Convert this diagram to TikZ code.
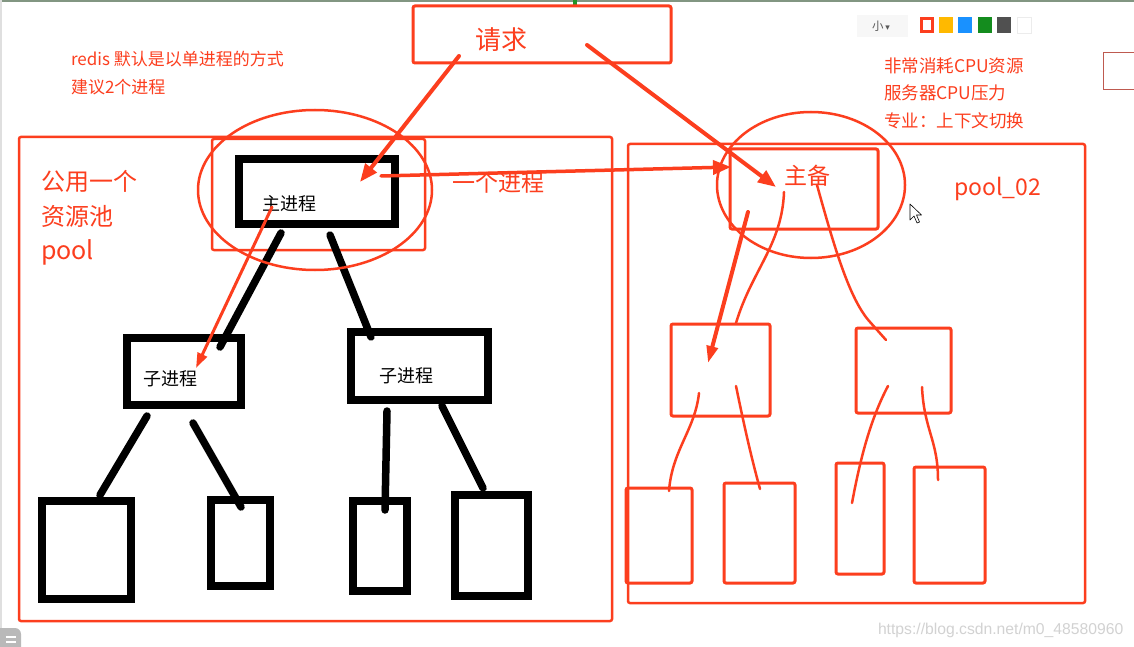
\documentclass[tikz,border=0pt]{standalone}
\usepackage{fontspec}
\setmainfont{Noto Sans CJK SC}
\newfontfamily\wmfont{Liberation Sans}
\newfontfamily\symfont{DejaVu Sans}
\usetikzlibrary{shapes.geometric,arrows.meta}
\definecolor{pen}{RGB}{252,62,30}
\definecolor{chrome}{RGB}{130,150,130}
\definecolor{tbgreen}{RGB}{30,150,40}
\definecolor{swOrange}{RGB}{255,185,0}
\definecolor{swBlue}{RGB}{25,145,255}
\definecolor{swGreen}{RGB}{20,140,30}
\definecolor{swGray}{RGB}{80,80,80}
\definecolor{edgebox}{RGB}{190,90,80}
\begin{document}
\begin{tikzpicture}[x=1pt,y=-1pt,
  bbox/.style={draw=black,line width=8pt,inner sep=0pt,outer sep=0pt,fill=white},
  rbox/.style={draw=pen,line width=3pt,inner sep=0pt,outer sep=0pt,rounded corners=2pt},
  rell/.style={draw=pen,line width=2.5pt,ellipse,inner sep=0pt,outer sep=0pt},
  bline/.style={draw=black,line width=7.5pt,line cap=round},
  rline/.style={draw=pen,line width=2.5pt,line cap=round,line join=round},
  rarrow/.style={draw=pen,line width=4pt,line cap=round,-{Triangle[length=18pt,width=14pt]}},
  lbl/.style={inner sep=0pt,outer sep=0pt,anchor=base west},
  rtext/.style={lbl,text=pen},
  swatch/.style={inner sep=0pt,outer sep=0pt,minimum width=14pt,minimum height=16pt}
]
\fill[white] (0,0) rectangle (1134,647);
\useasboundingbox (0,0) rectangle (1134,647);
% screen chrome
\draw[chrome,line width=2.5pt] (0,1) -- (1134,1);
\fill[tbgreen] (573,0) rectangle (577,6);
\draw[gray!25,line width=2pt] (1,0) -- (1,647);
% toolbar
\node[fill=gray!6,minimum width=51pt,minimum height=22pt,inner sep=0pt] (tb) at (882.5,26) {};
\node[lbl,font=\fontsize{11.5}{13}\selectfont,text=gray!70!black] (tbt) at (872,31) {小\,{\symfont\fontsize{9}{10}\selectfont ▾}};
\node[swatch,draw=pen,line width=3pt,fill=white,minimum width=11pt,minimum height=13pt] (sw1) at (927,25) {};
\node[swatch,fill=swOrange] (sw2) at (945.5,25) {};
\node[swatch,fill=swBlue] (sw3) at (965,25) {};
\node[swatch,fill=swGreen] (sw4) at (985,25) {};
\node[swatch,fill=swGray] (sw5) at (1004,25) {};
\node[swatch,fill=white,draw=gray!15,line width=0.6pt] (sw6) at (1024,25) {};
\draw[edgebox,line width=1pt] (1134,53) -- (1103,53) -- (1103,90) -- (1134,90);
% texts top
\node[rtext,font=\fontsize{17}{20}\selectfont] (n1) at (71,65.5) {redis 默认是以单进程的方式};
\node[rtext,font=\fontsize{17}{20}\selectfont] (n2) at (71,93.5) {建议2个进程};
\node[rtext,font=\fontsize{17.5}{20}\selectfont] (m1) at (884,72.5) {非常消耗CPU资源};
\node[rtext,font=\fontsize{17.5}{20}\selectfont] (m2) at (884,100) {服务器CPU压力};
\node[rtext,font=\fontsize{17.5}{20}\selectfont] (m3) at (884,127.5) {专业：上下文切换};
% request box
\node[rbox,minimum width=258pt,minimum height=57pt] (req) at (542,34.5) {};
\node[rtext,font=\fontsize{26}{30}\selectfont] (reqt) at (475,50) {请求};
% left pool
\node[rbox,line width=2.5pt,minimum width=593pt,minimum height=484pt] (pool1) at (315.5,379) {};
\node[rbox,line width=2.5pt,minimum width=213pt,minimum height=111pt] (inner) at (318.5,194.5) {};
\node[rtext,font=\fontsize{24}{28}\selectfont] (p1a) at (41,190) {公用一个};
\node[rtext,font=\fontsize{24}{28}\selectfont] (p1b) at (41,225) {资源池};
\node[rtext,font=\fontsize{25}{28}\selectfont] (p1c) at (41,259) {pool};
% black boxes
\node[bbox,minimum width=156pt,minimum height=65pt] (main) at (317,191.5) {};
\node[bbox,minimum width=114pt,minimum height=67pt] (sub1) at (184,371.5) {};
\node[bbox,minimum width=137pt,minimum height=68pt] (sub2) at (419.5,366) {};
\node[bbox,minimum width=89pt,minimum height=98pt] (l1) at (86.5,550) {};
\node[bbox,minimum width=59pt,minimum height=86pt] (l2) at (240.5,543) {};
\node[bbox,minimum width=54pt,minimum height=90pt] (l3) at (380,546) {};
\node[bbox,minimum width=73pt,minimum height=101pt] (l4) at (491.5,545.5) {};
\node[lbl,font=\fontsize{18}{20}\selectfont] (maint) at (262,211) {主进程};
\node[lbl,font=\fontsize{18}{20}\selectfont] (sub1t) at (143,385) {子进程};
\node[lbl,font=\fontsize{18}{20}\selectfont] (sub2t) at (379,382) {子进程};
% black connectors
\coordinate (a1) at (281,233); \coordinate (a2) at (220,347);
\coordinate (b1) at (330,235); \coordinate (b2) at (371,337);
\coordinate (c1) at (147,416); \coordinate (c2) at (100,495);
\coordinate (d1) at (193,423); \coordinate (d2) at (241,507);
\coordinate (e1) at (387,411); \coordinate (e2) at (385,510);
\coordinate (f1) at (442,406); \coordinate (f2) at (483,488);
\draw[bline] (a1) -- (a2);
\draw[bline] (b1) -- (b2);
\draw[bline] (c1) -- (c2);
\draw[bline] (d1) -- (d2);
\draw[bline] (e1) -- (e2);
\draw[bline] (f1) -- (f2);
% right pool
\node[rbox,line width=2.5pt,minimum width=457pt,minimum height=459pt] (pool2) at (856.5,373.5) {};
\node[rbox,minimum width=148pt,minimum height=80pt] (bak) at (804,189) {};
\node[rtext,font=\fontsize{23}{28}\selectfont] (bakt) at (784,185) {主备};
\node[rtext,font=\fontsize{23}{28}\selectfont] (pool2t) at (954,195) {pool\_02};
\node[rbox,minimum width=99pt,minimum height=92pt] (ra) at (720.5,370) {};
\node[rbox,minimum width=95pt,minimum height=85pt] (rb) at (903.5,370.5) {};
\node[rbox,minimum width=66pt,minimum height=95pt] (rl1) at (659,535.5) {};
\node[rbox,minimum width=71pt,minimum height=100pt] (rl2) at (759.5,533) {};
\node[rbox,minimum width=48pt,minimum height=111pt] (rl3) at (860,518.5) {};
\node[rbox,minimum width=71pt,minimum height=116pt] (rl4) at (949.5,525) {};
% right hand-drawn connectors
\coordinate (g1) at (784,192); \coordinate (g2) at (736,323);
\coordinate (h1) at (817,185); \coordinate (h2) at (886,340);
\coordinate (i1) at (699,393); \coordinate (i2) at (669,491);
\coordinate (j1) at (736,386); \coordinate (j2) at (760,489);
\coordinate (k1) at (888,386); \coordinate (k2) at (852,503);
\coordinate (m1p) at (922,387); \coordinate (m2p) at (938,480);
\draw[rline] (g1) .. controls (782,245) and (752,270) .. (g2);
\draw[rline] (h1) .. controls (835,250) and (850,300) .. (870,322) -- (h2);
\draw[rline] (i1) .. controls (695,430) and (672,450) .. (i2);
\draw[rline] (j1) .. controls (745,430) and (752,460) .. (j2);
\draw[rline] (k1) .. controls (870,420) and (860,460) .. (k2);
\draw[rline] (m1p) .. controls (924,430) and (938,440) .. (m2p);
\coordinate (q1) at (748,212); \coordinate (q2) at (708,363);
\draw[rarrow,line width=4pt,-{Triangle[length=17pt,width=11pt]}] (q1) -- (q2);
% ellipses
\node[rell,minimum width=234pt,minimum height=160pt] (ell1) at (315,190) {};
\node[rell,minimum width=188pt,minimum height=146pt] (ell2) at (811,185) {};
% red arrows
\coordinate (r1) at (459,56); \coordinate (r2) at (360,182);
\coordinate (s1) at (587,45); \coordinate (s2) at (776,187);
\coordinate (t1) at (381,176); \coordinate (t2) at (731,167);
\coordinate (u1) at (272,207); \coordinate (u2) at (196,368);
\draw[rarrow] (r1) -- (r2);
\draw[rarrow] (s1) -- (s2);
\draw[rarrow,line width=3.5pt] (t1) -- (t2);
\draw[rarrow,line width=3pt,-{Triangle[length=15pt,width=10pt]}] (u1) -- (u2);
\node[rtext,font=\fontsize{23}{28}\selectfont] (onep) at (452,192) {一个进程};
% cursor
\draw[fill=white,draw=black,line width=0.6pt,line join=round] (910,204) -- (910,220) -- (914,216) -- (917,223) -- (919.5,222) -- (916.5,215) -- (921.5,215) -- cycle;
% watermark and corner icon
\node[lbl,font=\wmfont\fontsize{15.7}{18}\selectfont,text=gray!35] (wm) at (878,634) {https://blog.csdn.net/m0\_48580960};
\fill[gray!55,rounded corners=6pt] (-8,628) rectangle (21,660);
\draw[white,line width=1.5pt] (6,637) -- (16,637) (6,642) -- (16,642);
\end{tikzpicture}
\end{document}
